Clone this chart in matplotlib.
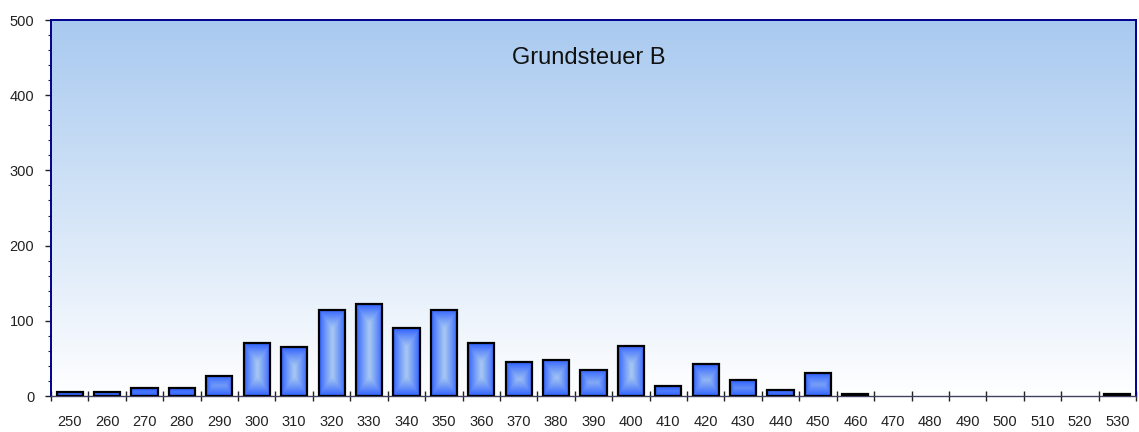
import numpy as np
import matplotlib
matplotlib.use("Agg")
import matplotlib.pyplot as plt
from matplotlib.ticker import MultipleLocator, FixedLocator

plt.rcParams['font.family'] = ['Liberation Sans', 'DejaVu Sans']

# Hebesatz-Klassen und Anzahl der Gemeinden
categories = ["250", "260", "270", "280", "290", "300", "310", "320", "330", "340",
              "350", "360", "370", "380", "390", "400", "410", "420", "430", "440",
              "450", "460", "470", "480", "490", "500", "510", "520", "530"]
counts = [5, 5, 10, 10, 27, 70, 65, 115, 122, 90,
          115, 70, 45, 48, 35, 67, 13, 42, 21, 8,
          30, 2, 0, 0, 0, 0, 0, 0, 2]
title = "Grundsteuer B"

W, H = 1139, 432
fig = plt.figure(figsize=(W / 100, H / 100), dpi=100)
ax = fig.add_axes([51 / W, 36 / H, (1136 - 51) / W, (396 - 20) / H])

ymax = 500
bar_w = 0.7
x = np.arange(len(categories))
counts = np.array(counts)

# Hintergrund: Verlauf hellblau -> weiss
top_col = np.array([0.66, 0.79, 0.94])
bot_col = np.array([1.0, 1.0, 1.0])
t = np.linspace(0, 1, 256)[:, None]
bg = top_col * (1 - t) + bot_col * t
ax.imshow(bg[:, None, :].repeat(2, axis=1), extent=(-0.5, len(categories) - 0.5, 0, ymax),
          aspect='auto', zorder=0, interpolation='bilinear')

# Balken mit Verlauf (hell in der Mitte, blau am Rand)
edge_col = np.array([0.16, 0.36, 1.0])
mid_col = np.array([0.66, 0.79, 0.95])
px_per_unit = (396 - 20) / ymax
slot_px = (1136 - 51) / len(categories)
for xi, h in zip(x, counts):
    if h <= 0:
        continue
    nx = max(int(bar_w * slot_px), 2)
    ny = max(int(h * px_per_unit), 2)
    ix = np.arange(nx) + 0.5
    iy = np.arange(ny) + 0.5
    dx = np.minimum(ix, nx - ix)[None, :] / (nx / 2.0)
    dy = np.minimum(iy, ny - iy)[:, None] / (nx * 0.75)
    d = np.clip(np.minimum(dx, dy), 0, 1) ** 0.85
    img = edge_col * (1 - d[..., None]) + mid_col * d[..., None]
    ax.imshow(img, extent=(xi - bar_w / 2, xi + bar_w / 2, 0, h),
              aspect='auto', zorder=2, interpolation='bilinear')
nz = counts > 0
ax.bar(x[nz], counts[nz], width=bar_w, facecolor='none', edgecolor='black', linewidth=1.6, zorder=3)

ax.set_xlim(-0.5, len(categories) - 0.5)
ax.set_ylim(0, ymax)

# Achsen
for side in ['left', 'top', 'right']:
    ax.spines[side].set_color('#00008b')
    ax.spines[side].set_linewidth(1.4)
ax.spines['bottom'].set_color('#404060')
ax.spines['bottom'].set_linewidth(1.0)

ax.yaxis.set_major_locator(MultipleLocator(100))
ax.yaxis.set_minor_locator(MultipleLocator(20))
ax.tick_params(axis='y', which='major', direction='out', length=4.5, width=1, pad=7.5,
               labelsize=10.5, labelcolor='#222222', color='#222222')
ax.tick_params(axis='y', which='minor', direction='out', length=2.5, width=0.8, color='#222222')

ax.set_xticks(x)
ax.set_xticklabels(categories)
ax.xaxis.set_minor_locator(FixedLocator(np.arange(len(categories) + 1) - 0.5))
ax.tick_params(axis='x', which='major', length=0, pad=13.5, labelsize=10.5, labelcolor='#222222')
ax.tick_params(axis='x', which='minor', direction='inout', length=7, width=1, color='#222222')

ax.text(0.4955, 0.9, title, transform=ax.transAxes, ha='center', va='center',
        fontsize=17, color='#111111', zorder=5)

fig.savefig("out.png", dpi=100)
